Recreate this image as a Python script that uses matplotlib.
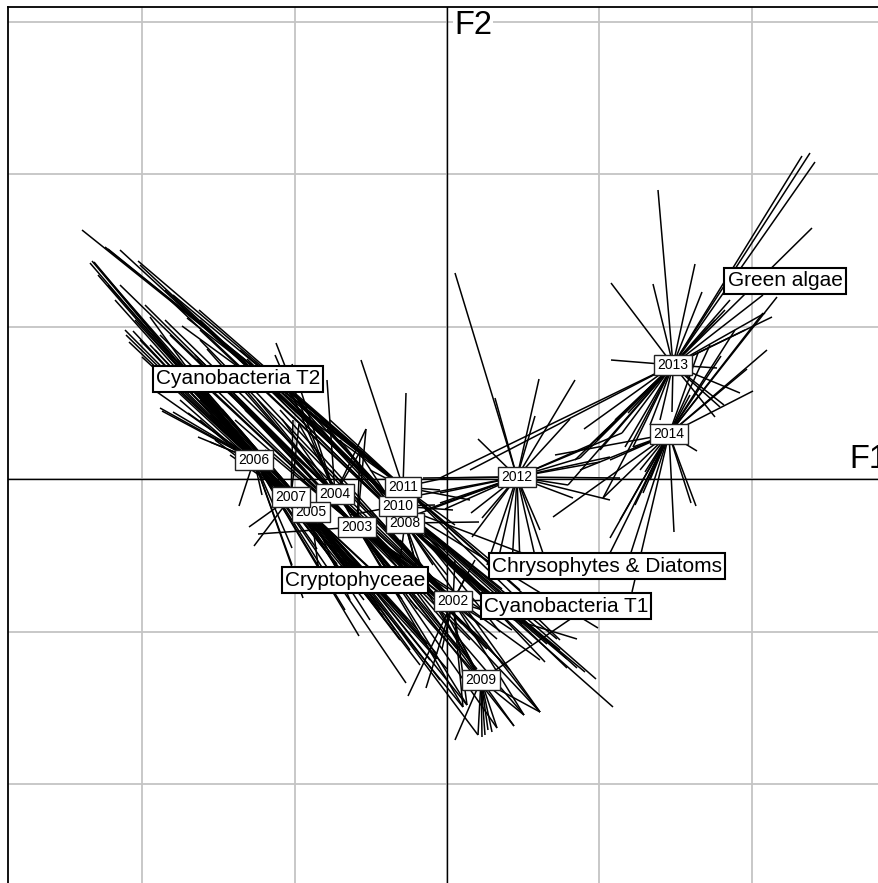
import numpy as np
import matplotlib
matplotlib.use("Agg")
import matplotlib.pyplot as plt

plt.rcParams['font.family'] = ['Liberation Sans', 'DejaVu Sans']

# scores on F1/F2, one grid cell = 152.5 units
GRID_STEP = 152.5

years = ['2002', '2003', '2004', '2005', '2006', '2007', '2008',
         '2009', '2010', '2011', '2012', '2013', '2014']
center_x = [6, -90, -112, -136, -193, -156, -42, 34, -49, -44, 70, 226, 222]
center_y = [-122, -48, -15, -33, 19, -18, -44, -201, -27, -8, 2, 114, 45]

# samples of each year (x and y lists)
x_2002 = [28, 8, 20, -39, -21, 16, 20, 50, 35, -5, -47, -77, -117, -167, -207, -247, -282, -102, -57, 93, 77, 130, 110]
y_2002 = [-81, -81, -95, -217, -209, -228, -226, -160, -140, -170, -61, -31, 9, 69, 104, 139, 159, -21, -51, -233, -236, -160, -120]

x_2003 = [-287, -262, -237, -212, -182, -147, -189, -81, -87, -148, 65, 33, 93, 13, 23, 50, 67, -20, -40, 0, 40, 16, 20,
          -250, -225, -200, -170, -50, -30, -10, 10, 30, -60]
y_2003 = [144, 114, 89, 59, 29, 1, -55, 50, 27, 55, -151, -146, -181, -131, -161, -249, -247, -101, -86, -110, -165, -228, -226,
          120, 95, 70, 40, -105, -130, -150, -170, -190, -90]

x_2004 = [-171, -172, -155, -120, -81, -87, -327, -302, -277, -252, -227, -202, -177, -147, -27, 3, 33, 53, 77, 93, 63, -7,
          -240, -215, -190, -165, -130, -40, -15, 15, 40, -60]
y_2004 = [136, 124, 115, 99, 50, 27, 194, 174, 144, 124, 94, 69, 49, 19, -101, -121, -161, -181, -236, -233, -191, -111,
          130, 105, 80, 60, 30, -95, -120, -145, -170, -75]

x_2005 = [-347, -339, -312, -297, -272, -252, -237, -207, -182, -87, -62, -37, -7, 20, 31, -17, -52, -97, -127,
          -260, -245, -225, -75, -60, -30, -10, -100, 0]
y_2005 = [209, 194, 159, 134, 109, 89, 64, 49, 19, -111, -141, -171, -201, -226, -256, -181, -151, -121, -101,
          110, 90, 70, -100, -115, -150, -175, -90, -190]

x_2006 = [-321, -318, -314, -305, -297, -287, -285, -274, -290, -259, -249, -237, -277, -262, -247, -208, -185, -155, -155, -41, -88, -144, -83, -64, -117, -102,
          -250, -235, -225, -215, -270, -240, -95, -75, -110, -130, -60, -45]
y_2006 = [144, 137, 148, 122, 162, 71, 68, 67, 87, 66, 42, 37, 109, 99, 79, -27, -16, -86, -69, -204, -157, -119, -121, -137, -101, -131,
          95, 70, 60, 50, 120, 85, -105, -115, -85, -70, -105, -120]

x_2007 = [-355, -357, -349, -353, -322, -307, -292, -332, -282, -267, -247, -232, -217, -154, -148, -198, -193, -102, -77, -47, -27, 16, -67,
          -270, -255, -240, -225, -210, -90, -70, -55, -40, -20, -120, -10]
y_2007 = [218, 216, 204, 217, 149, 139, 129, 179, 99, 79, 59, 39, 24, 59, 55, -48, -67, -101, -141, -161, -186, -228, -131,
          110, 95, 75, 60, 45, -95, -110, -125, -140, -165, -70, -180]

x_2008 = [-277, -217, -157, -107, -187, -247, 166, 138, 113, 32, -2, -14, 0, -32, -47, -27, -17, 93, 60, 85,
          -170, -130, -90, 20, 40, 75, 100, 120, -10]
y_2008 = [179, 129, 79, 39, 99, 149, -228, -193, -171, -43, -71, -86, -96, -81, -81, -101, -111, -233, -130, -165,
          100, 65, 30, -100, -120, -145, -165, -180, -60]

x_2009 = [35, 31, 41, 45, 50, 38, 8, 67, 77, 93, 125, -7, -27, -37, -47, 13, 3]
y_2009 = [-258, -256, -251, -253, -249, -256, -261, -247, -236, -233, -139, -131, -101, -121, -91, -161, -141]

x_2010 = [-327, -307, -282, -247, -222, -187, -162, 149, 130, 120, 98, 151, 75, 53, 6, -97, -12, 33, 73,
          -200, -150, -120, 90, 110, 55]
y_2010 = [229, 214, 189, 159, 134, 104, 84, -200, -189, -189, -183, -149, -74, -153, -31, -36, -26, -111, -131,
          120, 80, 50, -140, -160, -110]

x_2011 = [-365, -342, -339, -309, -274, -248, -260, -265, -86, -41, -2, -147, -117, -97, -7, 23, 73, 83, 113, 43, 8, -177, -207, -77]
y_2011 = [249, 232, 230, 218, 184, 169, 161, 153, 119, 86, 1, 79, 59, 34, -11, -21, -111, -121, -161, -81, -46, 99, 129, 9]

x_2012 = [8, 48, 92, 128, 88, 123, 31, 163, 175, 173, 126, 163, 24, 35, 25, 40, 50, 65, 73, 90, 93, 100, -7, -7, -7, -2, -24, 121, 133, 143, 153, -27, -22, -32]
y_2012 = [206, 81, 100, 99, 63, 60, 40, 22, 46, 1, -19, -21, -34, -39, -58, -86, -86, -86, -86, -86, -51, -86, 1, -14, -24, -30, 1, -6, 21, 34, 17, -16, -31, -36]

x_2013 = [355, 363, 368, 365, 211, 164, 206, 248, 255, 268, 325, 318, 316, 164, 270, 293, 277, 268, 273, 137, 181, 175, 133, 121, 178, 186, -7, 23, 156, 143, 160, 168, 203, 213, 225, 298, 283, 278, 153, 150, 128]
y_2013 = [323, 326, 317, 251, 289, 196, 195, 215, 187, 159, 162, 166, 184, 119, 111, 86, 74, 62, 72, 50, 66, 46, 21, -6, 32, 32, 1, 9, -19, 34, 49, 59, 54, 59, 67, 149, 179, 169, 29, 39, 19]

x_2014 = [330, 316, 320, 300, 306, 274, 250, 249, 244, 227, 163, 163, 180, 185, 196, 198, 106, 156, 133, 163, 186, 108, 251, 243, 193, 203, 188, 173, 263, 288]
y_2014 = [182, 166, 129, 110, 88, 123, 28, -27, -24, -53, -59, -74, -86, -113, -14, 7, -38, -19, 9, 19, 32, 24, 126, 84, 9, -1, -26, -41, 134, 149]

samples_x = [x_2002, x_2003, x_2004, x_2005, x_2006, x_2007, x_2008,
             x_2009, x_2010, x_2011, x_2012, x_2013, x_2014]
samples_y = [y_2002, y_2003, y_2004, y_2005, y_2006, y_2007, y_2008,
             y_2009, y_2010, y_2011, y_2012, y_2013, y_2014]

groups = ['Cyanobacteria T2', 'Cryptophyceae', 'Chrysophytes & Diatoms',
          'Cyanobacteria T1', 'Green algae']
group_x = [-209, -92, 160, 119, 338]
group_y = [100, -101, -87, -127, 198]

fig = plt.figure(figsize=(8.79, 8.83), dpi=100)
ax = fig.add_axes([8 / 879, 0, 871 / 879, 876 / 883])
ax.set_xlim(-439, 432)
ax.set_ylim(-404, 472)

ticks_x = np.arange(-2, 3) * GRID_STEP
ticks_y = np.arange(-2, 4) * GRID_STEP
ax.set_xticks(ticks_x)
ax.set_yticks(ticks_y)
ax.tick_params(length=0, labelbottom=False, labelleft=False)
ax.grid(True, color='#c4c4c4', linewidth=1.3)
ax.set_axisbelow(True)

for side in ['right', 'bottom']:
    ax.spines[side].set_visible(False)
for side in ['left', 'top']:
    ax.spines[side].set_linewidth(1.3)

ax.axhline(0, color='black', lw=1.0, zorder=2)
ax.axvline(0, color='black', lw=1.0, zorder=2)

# stars: every sample joined to the centre of its year
for cx, cy, xs, ys in zip(center_x, center_y, samples_x, samples_y):
    for x, y in zip(xs, ys):
        ax.plot([cx, x], [cy, y], color='black', lw=1.1, zorder=3,
                solid_capstyle='butt')

for name, cx, cy in zip(years, center_x, center_y):
    ax.text(cx, cy, name, fontsize=10, ha='center', va='center', zorder=5,
            bbox=dict(boxstyle='square,pad=0.25', fc='white', ec='#222222', lw=1.0))

for name, gx, gy in zip(groups, group_x, group_y):
    ax.text(gx, gy, name, fontsize=15, ha='center', va='center', zorder=6,
            bbox=dict(boxstyle='square,pad=0.15', fc='white', ec='black', lw=1.5))

ax.text(7, 453, 'F2', fontsize=23.5, ha='left', va='center', zorder=4,
        bbox=dict(fc='white', ec='none', pad=1))
ax.text(402, 20, 'F1', fontsize=23.5, ha='left', va='center', zorder=4,
        bbox=dict(fc='white', ec='none', pad=1), clip_on=True)

fig.savefig('out.png', dpi=100)
